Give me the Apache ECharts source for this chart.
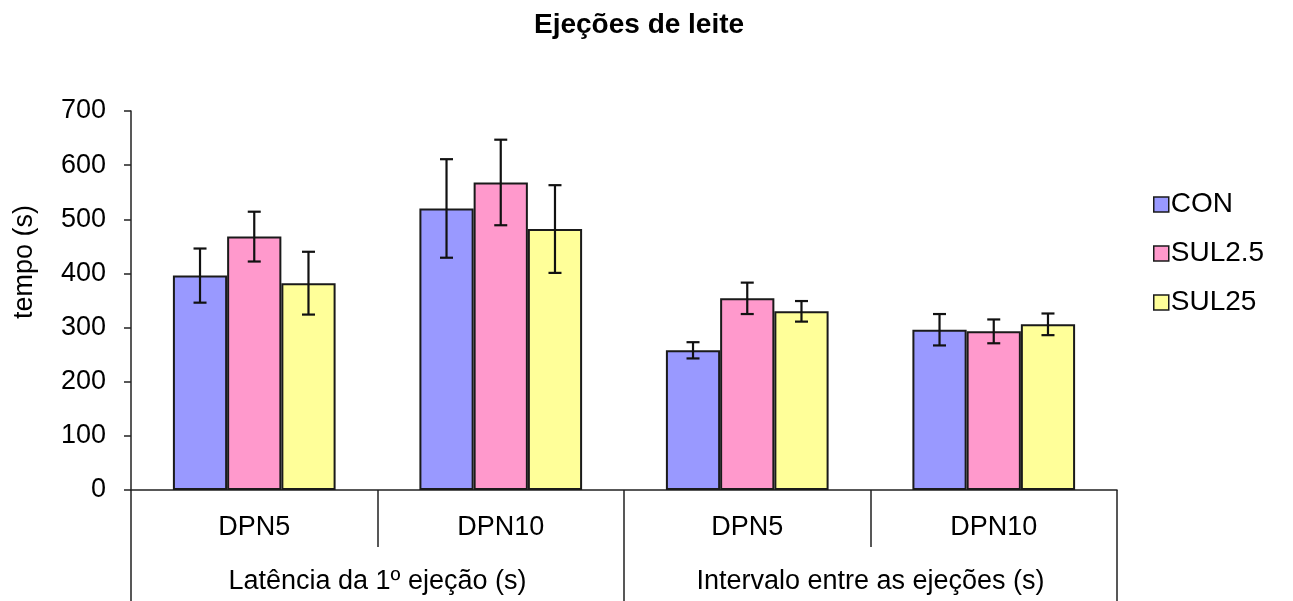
<!DOCTYPE html>
<html>
<head>
<meta charset="utf-8">
<script src="https://cdn.jsdelivr.net/npm/echarts@6/dist/echarts.min.js"></script>
<style>html,body{margin:0;padding:0;background:#fff}#c{width:1293px;height:601px}</style>
</head>
<body>
<div id="c"></div>
<script>
const categories = ['DPN5', 'DPN10', 'DPN5', 'DPN10'];
const groups = ['Latência da 1º ejeção (s)', 'Intervalo entre as ejeções (s)'];
const seriesNames = ['CON', 'SUL2.5', 'SUL25'];
const conValues = [396, 520, 258, 296];
const sul25Values = [468, 568, 354, 293];
const sul25bValues = [382, 482, 330, 306];
const conErr = [50, 91, 15, 29];
const sul25Err = [46, 79, 29, 22];
const sul25bErr = [58, 81, 19, 20];
const yTicks = [0, 100, 200, 300, 400, 500, 600, 700];

const colors = ['#9999FF', '#FF99CC', '#FFFF99'];
const values = [conValues, sul25Values, sul25bValues];
const errs = [conErr, sul25Err, sul25bErr];
const FONT = 'Liberation Sans';
const BARW = 0.22;

const series = [];
values.forEach((vals, i) => {
  series.push({
    name: seriesNames[i], type: 'bar', data: vals,
    barWidth: (BARW * 100) + '%', barGap: '0%',
    itemStyle: { color: colors[i], borderColor: '#1a1a1a', borderWidth: 2 }
  });
});
values.forEach((vals, i) => {
  series.push({
    name: 'err' + i, type: 'custom', z: 10,
    data: vals.map((v, k) => [k, v, errs[i][k]]),
    renderItem: function (params, api) {
      const x = api.value(0), v = api.value(1), e = api.value(2);
      const bw = api.size([1, 0])[0];
      const off = (i - 1) * BARW * bw;
      const t = api.coord([x, v + e]);
      const b = api.coord([x, v - e]);
      const cx = t[0] + off;
      const cap = 6.5;
      const st = { stroke: '#111', lineWidth: 2.2 };
      return { type: 'group', children: [
        { type: 'line', shape: { x1: cx, y1: t[1], x2: cx, y2: b[1] }, style: st },
        { type: 'line', shape: { x1: cx - cap, y1: t[1], x2: cx + cap, y2: t[1] }, style: st },
        { type: 'line', shape: { x1: cx - cap, y1: b[1], x2: cx + cap, y2: b[1] }, style: st }
      ]};
    }
  });
});

const chart = echarts.init(document.getElementById('c'));
chart.setOption({
  animation: false,
  textStyle: { fontFamily: FONT },
  title: {
    text: 'Ejeções de leite', left: 529, top: 6,
    textStyle: { fontFamily: FONT, fontSize: 28, fontWeight: 'bold', color: '#000' }
  },
  legend: {
    orient: 'vertical', left: 1148, top: 184,
    data: seriesNames, icon: 'rect', itemWidth: 15, itemHeight: 15, itemGap: 18,
    textStyle: { fontFamily: FONT, fontSize: 28, color: '#000', lineHeight: 31, padding: [0, 0, 0, -3] },
    itemStyle: { borderColor: '#1a1a1a', borderWidth: 1.5 }
  },
  grid: { left: 131, right: 176, top: 111, bottom: 111, containLabel: false },
  graphic: [{
    type: 'text', x: 25, y: 262, rotation: Math.PI / 2,
    style: { text: 'tempo (s)', fontFamily: FONT, fontSize: 27, fill: '#000', align: 'center', verticalAlign: 'middle' }
  }],
  xAxis: [{
    type: 'category', data: categories, position: 'bottom',
    axisLine: { lineStyle: { color: '#222', width: 1.5 } },
    axisTick: { show: true, length: 57, interval: 0, alignWithLabel: false, lineStyle: { color: '#222', width: 1.5 } },
    axisLabel: { margin: 24, fontFamily: FONT, fontSize: 27, color: '#000', interval: 0 }
  }, {
    type: 'category', data: groups, position: 'bottom', gridIndex: 0,
    axisLine: { show: false },
    axisTick: { show: true, length: 115, interval: 0, alignWithLabel: false, lineStyle: { color: '#222', width: 1.5 } },
    axisLabel: { margin: 78, fontFamily: FONT, fontSize: 27, color: '#000', interval: 0 }
  }],
  yAxis: {
    type: 'value', min: yTicks[0], max: yTicks[yTicks.length - 1], interval: 100,
    axisLine: { show: true, lineStyle: { color: '#222', width: 1.5 } },
    axisTick: { show: true, length: 7, inside: false, lineStyle: { color: '#222', width: 1.5 } },
    splitLine: { show: false },
    axisLabel: { margin: 25, fontFamily: FONT, fontSize: 27, color: '#000' }
  },
  series: series
});
</script>
</body>
</html>
